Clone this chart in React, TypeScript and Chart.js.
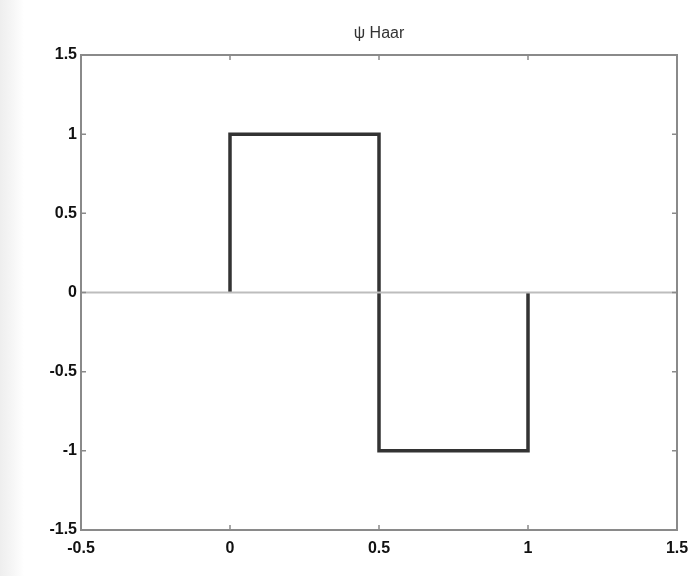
import React, { useEffect, useRef } from "react";
import { Chart, registerables } from "chart.js";

Chart.register(...registerables);

const titleText = "ψ Haar";
const haarX = [0, 0, 0.5, 0.5, 1, 1];
const haarY = [0, 1, 1, -1, -1, 0];
const zeroX = [-0.5, 1.5];
const zeroY = [0, 0];
const xMin = -0.5, xMax = 1.5, yMin = -1.5, yMax = 1.5, step = 0.5;

const fmt = (v: number) => String(Math.round(v * 10) / 10);

const boxPlugin = {
  id: "boxPlugin",
  afterDatasetsDraw(chart: any) {
    const { ctx, chartArea: a, scales } = chart;
    ctx.save();
    ctx.strokeStyle = "#8a8a8a";
    ctx.lineWidth = 2;
    ctx.strokeRect(a.left, a.top, a.right - a.left, a.bottom - a.top);
    ctx.lineWidth = 1.5;
    const tl = 5;
    scales.x.ticks.forEach((t: any) => {
      const px = scales.x.getPixelForValue(t.value);
      ctx.beginPath();
      ctx.moveTo(px, a.bottom); ctx.lineTo(px, a.bottom - tl);
      ctx.moveTo(px, a.top); ctx.lineTo(px, a.top + tl);
      ctx.stroke();
    });
    scales.y.ticks.forEach((t: any) => {
      const py = scales.y.getPixelForValue(t.value);
      ctx.beginPath();
      ctx.moveTo(a.left, py); ctx.lineTo(a.left + tl, py);
      ctx.moveTo(a.right, py); ctx.lineTo(a.right - tl, py);
      ctx.stroke();
    });
    ctx.fillStyle = "#333";
    ctx.font = "16px 'Liberation Sans', Arial, sans-serif";
    ctx.textAlign = "center";
    ctx.textBaseline = "middle";
    ctx.fillText(titleText, (a.left + a.right) / 2, 34);
    ctx.restore();
  },
};

export default function App() {
  const ref = useRef<HTMLCanvasElement>(null);
  useEffect(() => {
    if (!ref.current) return;
    const tickFont = { family: "'Liberation Sans', Arial, sans-serif", size: 16, weight: "bold" as const };
    const chart = new Chart(ref.current, {
      type: "scatter",
      data: {
        datasets: [
          {
            data: zeroX.map((x, i) => ({ x, y: zeroY[i] })),
            showLine: true,
            borderColor: "#bdbdbd",
            borderWidth: 2,
            pointRadius: 0,
          },
          {
            data: haarX.map((x, i) => ({ x, y: haarY[i] })),
            showLine: true,
            borderColor: "#333333",
            borderWidth: 3.5,
            pointRadius: 0,
            borderJoinStyle: "miter",
          },
        ],
      },
      options: {
        animation: false,
        responsive: false,
        maintainAspectRatio: false,
        layout: { padding: { left: 0, right: 12, top: 55, bottom: 0 } },
        plugins: { legend: { display: false }, tooltip: { enabled: false }, title: { display: false } },
        scales: {
          x: {
            type: "linear",
            min: xMin,
            max: xMax,
            ticks: { stepSize: step, color: "#111", font: tickFont, padding: 9, maxRotation: 0, callback: (v: any) => fmt(Number(v)) },
            grid: { display: false, drawTicks: false },
            border: { display: false },
            afterFit: (s: any) => { s.height = 46; s.paddingLeft = 0; s.paddingRight = 0; },
          },
          y: {
            type: "linear",
            min: yMin,
            max: yMax,
            ticks: { stepSize: step, color: "#111", font: tickFont, padding: 4, callback: (v: any) => fmt(Number(v)) },
            grid: { display: false, drawTicks: false },
            border: { display: false },
            afterFit: (s: any) => { s.width = 81; s.paddingTop = 0; s.paddingBottom = 0; },
          },
        },
      },
      plugins: [boxPlugin],
    });
    return () => chart.destroy();
  }, []);
  return (
    <div
      style={{
        position: "absolute",
        left: 0,
        top: 0,
        width: 689,
        height: 576,
        background: "linear-gradient(to right, #eeeeee 0px, #f7f7f7 14px, #ffffff 24px)",
      }}
    >
      <canvas ref={ref} width={689} height={576} style={{ display: "block" }} />
    </div>
  );
}
